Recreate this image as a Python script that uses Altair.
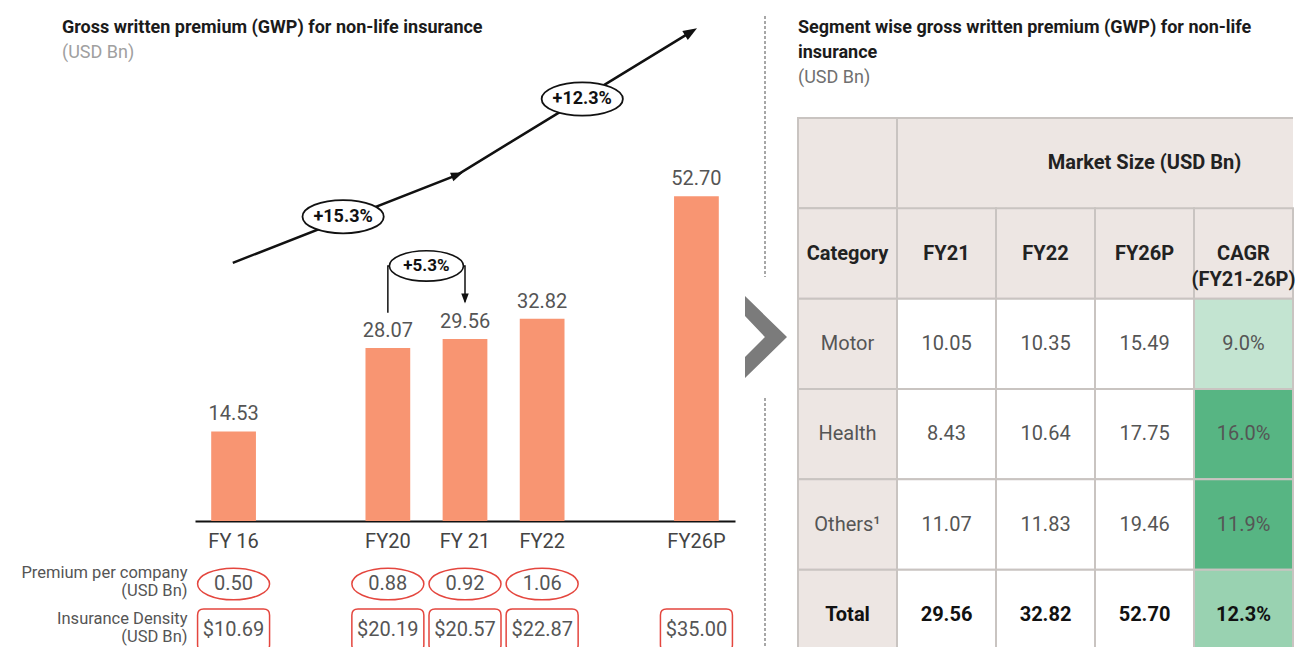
import altair as alt
import pandas as pd

# ---------------- data ----------------
slots = ["FY 16", "gap1", "FY20", "FY 21", "FY22", "gap2", "FY26P"]
years = ["FY 16", "FY20", "FY 21", "FY22", "FY26P"]
gwp = [14.53, 28.07, 29.56, 32.82, 52.70]
premium_years = ["FY 16", "FY20", "FY 21", "FY22"]
premium_per_company = [0.50, 0.88, 0.92, 1.06]
insurance_density = [10.69, 20.19, 20.57, 22.87, 35.00]
row_labels = ["Premium per company|(USD Bn)", "Insurance Density|(USD Bn)"]

# CAGR trend annotation (x in category slots, y in USD Bn)
trend_slot = [0.49, 3.40, 6.43]
trend_value = [41.9, 56.2, 79.4]
cagr_text = ["+15.3%", "+12.3%"]
cagr_slot = [1.92, 5.02]
cagr_value = [49.4, 68.5]

# YoY bracket annotation
yoy_text = "+5.3%"
yoy_from, yoy_to = "FY20", "FY 21"
bracket_value = [33.8, 41.4, 41.4, 35.6]

# segment table
table_cols = ["Category", "FY21", "FY22", "FY26P", "CAGR"]
table_rows = ["head1", "head2", "Motor", "Health", "Others¹", "Total"]
header_text = ["Category", "FY21", "FY22", "FY26P", "CAGR\n(FY21-26P)"]
segments = ["Motor", "Health", "Others¹", "Total"]
seg_fy21 = [10.05, 8.43, 11.07, 29.56]
seg_fy22 = [10.35, 10.64, 11.83, 32.82]
seg_fy26p = [15.49, 17.75, 19.46, 52.70]
seg_cagr = [9.0, 16.0, 11.9, 12.3]
cagr_shade = ["light", "dark", "dark", "mid"]

# ---------------- styles ----------------
W, H = 1289, 639
FONT = "Roboto"
BAR = "#f89572"
RED = "#e4463e"
GRID = "#c9c4c1"
TXT = "#555555"


def ellipse_path(ry, k=0.5523):
    a = k * ry
    return (f"M-1,0C-1,{-a:.3f},{-k:.3f},{-ry:.3f},0,{-ry:.3f}"
            f"C{k:.3f},{-ry:.3f},1,{-a:.3f},1,0"
            f"C1,{a:.3f},{k:.3f},{ry:.3f},0,{ry:.3f}"
            f"C{-k:.3f},{ry:.3f},-1,{a:.3f},-1,0Z")


def rounded_rect_path(hh, r):
    return (f"M{-1 + r:.3f},{-hh:.3f}L{1 - r:.3f},{-hh:.3f}Q1,{-hh:.3f},1,{-hh + r:.3f}"
            f"L1,{hh - r:.3f}Q1,{hh:.3f},{1 - r:.3f},{hh:.3f}L{-1 + r:.3f},{hh:.3f}"
            f"Q-1,{hh:.3f},-1,{hh - r:.3f}L-1,{-hh + r:.3f}Q-1,{-hh:.3f},{-1 + r:.3f},{-hh:.3f}Z")


ARROW = "M1,0L-1,-0.75L-1,0.75Z"
CHEVRON = "M-1,-1.95L1,0L-1,1.95L-1,0.95L-0.05,0L-1,-1Z"

# ---------------- scales ----------------
bar_x = alt.Scale(domain=slots, range=[187, 727], paddingInner=0.42, paddingOuter=0.21)
slot_x = alt.Scale(domain=[0, 7], range=[187, 727], nice=False, zero=False)
val_y = alt.Scale(domain=[0, 78], range=[513, 32.5], nice=False, zero=False)
row_y = alt.Scale(type="point", domain=row_labels, range=[576, 622], padding=0)
tab_x = alt.Scale(domain=table_cols, range=[790, 1285], paddingInner=0, paddingOuter=0)
tab_y = alt.Scale(domain=table_rows, range=[110, 652], paddingInner=0, paddingOuter=0)
shade_scale = alt.Scale(domain=["head", "cat", "white", "light", "dark", "mid"],
                        range=["#ede6e3", "#ede6e3", "#ffffff", "#c3e4d1", "#57b583", "#99d2b1"])

# ---------------- frames ----------------
bars_df = pd.DataFrame({"year": years, "gwp": gwp})
prem_df = pd.DataFrame({"year": premium_years, "row": row_labels[0], "v": premium_per_company})
dens_df = pd.DataFrame({"year": years, "row": row_labels[1],
                        "label": [f"${v:.2f}" for v in insurance_density]})
trend_df = pd.DataFrame({"slot": trend_slot, "v": trend_value, "o": list(range(len(trend_slot)))})
cagr_df = pd.DataFrame({"slot": cagr_slot, "v": cagr_value, "t": cagr_text})
s_from = slots.index(yoy_from) + 0.5
s_to = slots.index(yoy_to) + 0.5
bracket_df = pd.DataFrame({"slot": [s_from, s_from, s_to, s_to], "v": bracket_value, "o": [0, 1, 2, 3]})
yoy_df = pd.DataFrame({"slot": [(s_from + s_to) / 2], "v": [bracket_value[1]], "t": [yoy_text]})
yoy_arrow_df = pd.DataFrame({"slot": [s_to], "v": [bracket_value[3] + 0.5]})

cells = []
for c in table_cols:
    cells.append({"row": "head1", "col": c, "kind": "head", "merged": c != "Category"})
for c in table_cols:
    cells.append({"row": "head2", "col": c, "kind": "head", "merged": False})
for i, s in enumerate(segments):
    cells.append({"row": s, "col": "Category", "kind": "cat", "merged": False})
    for c in ["FY21", "FY22", "FY26P"]:
        cells.append({"row": s, "col": c, "kind": "white", "merged": False})
    cells.append({"row": s, "col": "CAGR", "kind": cagr_shade[i], "merged": False})
cells_df = pd.DataFrame(cells)

head_df = pd.DataFrame({"row": "head2", "col": table_cols, "t": header_text})
body = []
for i, s in enumerate(segments):
    vals = [s, f"{seg_fy21[i]:.2f}", f"{seg_fy22[i]:.2f}", f"{seg_fy26p[i]:.2f}", f"{seg_cagr[i]:.1f}%"]
    for c, v in zip(table_cols, vals):
        body.append({"row": s, "col": c, "t": v, "bold": s == "Total"})
body_df = pd.DataFrame(body)

# ---------------- encodings ----------------
x_axis = alt.Axis(title=None, orient="bottom", offset=513 - H,
                  labelExpr="indexof(datum.value, 'gap') >= 0 ? '' : datum.value",
                  labelAngle=0, labelFont=FONT, labelFontSize=20, labelColor="#444",
                  labelPadding=10, ticks=False, grid=False, domainColor="#111", domainWidth=2)
row_axis = alt.Axis(title=None, orient="left", offset=-181, domain=False, ticks=False, grid=False,
                    labelExpr="split(datum.value, '|')", labelAlign="right", labelBaseline="middle",
                    labelFont=FONT, labelFontSize=16.5, labelColor=TXT, labelLineHeight=18,
                    labelPadding=2, labelOffset=-12, labelLimit=400)

XY = lambda axis=None: alt.X("year:N", scale=bar_x, axis=axis)
XS = alt.X("slot:Q", scale=slot_x, axis=None)
YV = alt.Y("v:Q", scale=val_y, axis=None)
TX = alt.X("col:N", scale=tab_x, axis=None)
TY = alt.Y("row:N", scale=tab_y, axis=None)

layers = []

# ---- table ----
layers.append(alt.Chart(cells_df).transform_filter("datum.merged").mark_rect(strokeWidth=0).encode(
    x=TX, y=TY, color=alt.Color("kind:N", scale=shade_scale, legend=None)))
layers.append(alt.Chart(cells_df).transform_filter("!datum.merged").mark_rect(
    stroke=GRID, strokeWidth=2).encode(
    x=TX, y=TY, fill=alt.Fill("kind:N", scale=shade_scale, legend=None)))
layers.append(alt.Chart(pd.DataFrame({"edge": ["top"]})).mark_rule(color=GRID, strokeWidth=2).encode(
    x=alt.value(790), x2=alt.value(1285), y=alt.value(110)))
layers.append(alt.Chart(pd.DataFrame({"row": ["head1"], "col": ["FY26P"], "t": ["Market Size (USD Bn)"]}))
              .mark_text(font=FONT, fontSize=20, fontWeight="bold", color="#222")
              .encode(x=alt.X("col:N", scale=tab_x, axis=None, bandPosition=0), y=TY, text="t:N"))
layers.append(alt.Chart(head_df).mark_text(font=FONT, fontSize=20, fontWeight="bold", color="#222",
                                           lineBreak="\n", lineHeight=26)
              .encode(x=TX, y=TY, text="t:N"))
layers.append(alt.Chart(body_df).transform_filter("!datum.bold")
              .mark_text(font=FONT, fontSize=20, color=TXT).encode(x=TX, y=TY, text="t:N"))
layers.append(alt.Chart(body_df).transform_filter("datum.bold")
              .mark_text(font=FONT, fontSize=20, fontWeight="bold", color="#111").encode(x=TX, y=TY, text="t:N"))

# ---- divider & chevron ----
div_df = pd.DataFrame({"seg": ["a"]})
layers.append(alt.Chart(div_df).mark_rule(color="#8a8a8a", strokeWidth=1.5, strokeDash=[3, 2]).encode(
    x=alt.value(757), y=alt.value(8), y2=alt.value(269)))
layers.append(alt.Chart(div_df).mark_rule(color="#8a8a8a", strokeWidth=1.5, strokeDash=[3, 2]).encode(
    x=alt.value(757), y=alt.value(390), y2=alt.value(H)))
layers.append(alt.Chart(div_df).mark_point(shape=CHEVRON, size=1764, filled=True, color="#7b7b7b",
                                           opacity=1, strokeWidth=0).encode(
    x=alt.value(758), y=alt.value(329)))

# ---- titles ----
def title_text(txt, x, y, size, weight, color):
    return alt.Chart(div_df).mark_text(text=txt, align="left", baseline="middle", font=FONT,
                                       fontSize=size, fontWeight=weight, color=color).encode(
        x=alt.value(x), y=alt.value(y))

layers += [
    title_text("Gross written premium (GWP) for non-life insurance", 54, 20, 18, "bold", "#1b1b1b"),
    title_text("(USD Bn)", 54, 45, 18, "normal", "#a0a0a0"),
    title_text("Segment wise gross written premium (GWP) for non-life", 790, 20, 18, "bold", "#1b1b1b"),
    title_text("insurance", 790, 45, 18, "bold", "#1b1b1b"),
    title_text("(USD Bn)", 790, 70, 18, "normal", "#707070"),
]

# ---- bars ----
layers.append(alt.Chart(bars_df).mark_bar(color=BAR).encode(
    x=XY(x_axis), y=alt.Y("gwp:Q", scale=val_y, axis=None)))
layers.append(alt.Chart(bars_df).mark_text(font=FONT, fontSize=20, color=TXT, baseline="alphabetic", dy=-11)
              .encode(x=XY(), y=alt.Y("gwp:Q", scale=val_y, axis=None),
                      text=alt.Text("gwp:Q", format=".2f")))

# ---- CAGR trend arrow ----
layers.append(alt.Chart(trend_df).mark_line(color="#111", strokeWidth=2.5).encode(x=XS, y=YV, order="o:Q"))
layers.append(alt.Chart(trend_df.iloc[[1]]).mark_point(shape=ARROW, size=144, filled=True, color="#111",
                                                       opacity=1, angle=338.6).encode(x=XS, y=YV))
layers.append(alt.Chart(trend_df.iloc[[2]]).mark_point(shape=ARROW, size=196, filled=True, color="#111",
                                                       opacity=1, angle=328.6).encode(x=XS, y=YV))
layers.append(alt.Chart(cagr_df).mark_point(shape=ellipse_path(0.41), size=6600, filled=True, fill="white",
                                            stroke="#111", strokeWidth=1.8, opacity=1).encode(x=XS, y=YV))
layers.append(alt.Chart(cagr_df).mark_text(font=FONT, fontSize=18, fontWeight="bold", color="#111")
              .encode(x=XS, y=YV, text="t:N"))

# ---- YoY bracket ----
layers.append(alt.Chart(bracket_df).mark_line(color="#111", strokeWidth=1.5).encode(x=XS, y=YV, order="o:Q"))
layers.append(alt.Chart(yoy_arrow_df).mark_point(shape=ARROW, size=100, filled=True, color="#111",
                                                 opacity=1, angle=90).encode(x=XS, y=YV))
layers.append(alt.Chart(yoy_df).mark_point(shape=ellipse_path(0.41), size=5476, filled=True, fill="white",
                                           stroke="#111", strokeWidth=1.6, opacity=1).encode(x=XS, y=YV))
layers.append(alt.Chart(yoy_df).mark_text(font=FONT, fontSize=17, fontWeight="bold", color="#111")
              .encode(x=XS, y=YV, text="t:N"))

# ---- premium per company row ----
layers.append(alt.Chart(prem_df).mark_point(shape=ellipse_path(0.44), size=5184, filled=True, fill="white",
                                            stroke=RED, strokeWidth=1.5, opacity=1).encode(
    x=XY(), y=alt.Y("row:N", scale=row_y, axis=row_axis)))
layers.append(alt.Chart(prem_df).mark_text(font=FONT, fontSize=20, color=TXT).encode(
    x=XY(), y=alt.Y("row:N", scale=row_y, axis=None), text=alt.Text("v:Q", format=".2f")))

# ---- insurance density row ----
layers.append(alt.Chart(dens_df).mark_point(shape=rounded_rect_path(0.58, 0.17), size=5184, filled=True,
                                            fill="white", stroke=RED, strokeWidth=1.5, opacity=1).encode(
    x=XY(), y=alt.Y("row:N", scale=row_y, axis=None)))
layers.append(alt.Chart(dens_df).mark_text(font=FONT, fontSize=20, color=TXT).encode(
    x=XY(), y=alt.Y("row:N", scale=row_y, axis=None), text="label:N"))

chart = alt.layer(*layers).resolve_scale(
    x="independent", y="independent", color="independent", fill="independent"
).properties(
    width=W, height=H, autosize=alt.AutoSizeParams(type="none"), padding=0
).configure_view(stroke=None)

chart.save("out.html", embed_options={"renderer": "svg", "actions": False})
